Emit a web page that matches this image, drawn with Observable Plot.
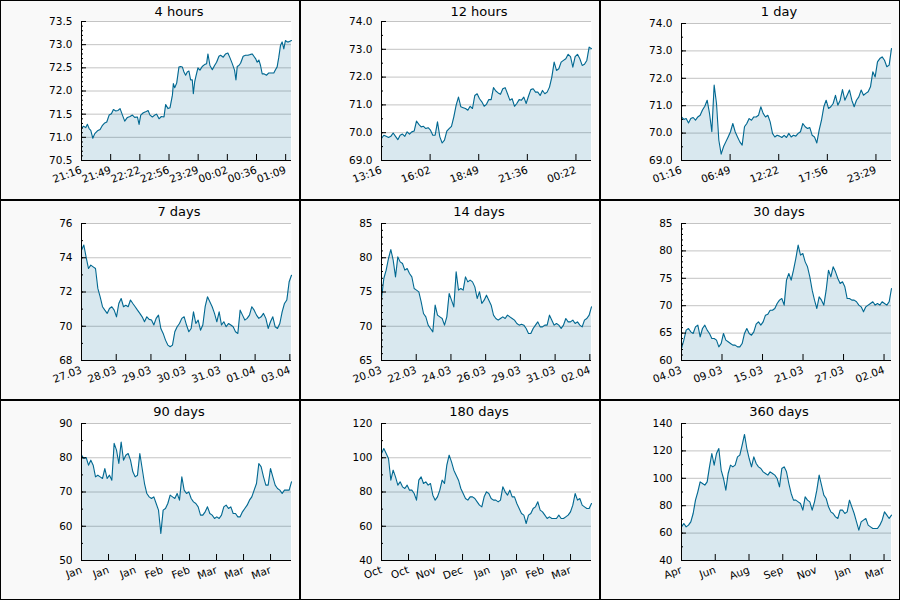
<!DOCTYPE html>
<html><head><meta charset="utf-8">
<script src="https://cdn.jsdelivr.net/npm/d3@7"></script>
<script src="https://cdn.jsdelivr.net/npm/@observablehq/plot@0.6"></script>
<style>
body{margin:0;background:#fff;}
#grid{display:grid;grid-template-columns:repeat(3,300px);grid-template-rows:repeat(3,200px);width:900px;height:600px;}
.panel{position:relative;width:300px;height:200px;background:#f9f9f9;box-shadow:inset 0 0 0 1px #000;}
.panel svg{position:absolute;left:0;top:0;}
</style></head><body><div id="grid"></div>
<script>
// ---- 4 hours (times in minutes from start) ----
const t4h = [0,2.3,4.9,6.8,8.7,10.6,12.9,15.2,18.3,21.3,24.0,26.6,28.9,31.6,34.2,36.5,39.2,41.8,44.1,46.8,49.4,52.5,55.5,58.2,60.8,63.9,65.8,67.7,70.7,73.4,76.1,78.3,81.0,83.7,85.9,88.6,91.3,94.3,96.2,98.9,101.2,103.9,105.0,106.5,108.8,111.4,113.3,115.2,117.1,119.0,120.9,122.8,124.7,126.6,127.8,129.3,130.8,133.1,135.4,138.0,140.7,143.0,144.5,146.8,149.5,152.1,154.4,157.1,159.0,162.0,164.7,167.3,169.6,172.3,174.9,176.5,178.0,179.9,181.8,184.8,187.5,190.2,193.2,195.1,197.0,198.9,200.8,202.7,204.6,206.5,208.4,211.4,214.1,216.8,219.8,221.7,223.6,225.5,227.4,229.3,231.2,233.1,235.0,236.9,238.8,240];
const v4h = [71.19,71.24,71.21,71.28,71.19,71.15,70.98,71.08,71.14,71.17,71.26,71.31,71.33,71.48,71.51,71.60,71.57,71.58,71.62,71.48,71.35,71.43,71.45,71.48,71.43,71.44,71.28,71.48,71.53,71.55,71.58,71.48,71.44,71.48,71.50,71.40,71.45,71.44,71.71,71.62,71.64,71.91,72.16,72.07,72.17,72.52,72.53,72.52,72.41,72.34,72.41,72.43,72.24,72.24,71.94,72.19,72.32,72.50,72.45,72.53,72.57,72.59,72.80,72.55,72.46,72.55,72.62,72.75,72.77,72.73,72.80,72.82,72.72,72.59,72.45,72.24,72.53,72.55,72.60,72.75,72.77,72.77,72.79,72.80,72.75,72.70,72.62,72.67,72.55,72.37,72.37,72.34,72.39,72.39,72.39,72.46,72.52,72.73,72.98,73.06,72.91,73.09,73.06,73.06,73.08,73.09];
const lab4h = ["21:16","21:49","22:22","22:56","23:29","00:02","00:36","01:09"];

// ---- 12 hours ----
const v12h = [69.79,69.91,69.87,69.83,69.87,69.99,69.87,69.75,69.91,69.95,69.87,70.03,69.95,70.03,70.06,70.42,70.30,70.21,70.23,70.15,70.18,70.09,69.91,69.91,70.39,69.85,69.63,69.73,70.06,70.15,70.23,70.57,70.99,71.28,70.93,70.90,70.87,70.81,70.95,70.87,71.34,71.40,71.22,71.11,70.95,71.02,71.19,71.19,71.62,71.50,71.43,71.38,71.58,71.62,71.40,71.17,71.22,70.95,71.05,71.19,71.17,71.28,71.05,71.31,71.55,71.58,71.46,71.46,71.34,71.52,71.40,71.46,71.64,72.00,72.54,72.24,72.30,72.54,72.60,72.66,72.82,72.74,72.36,72.74,72.82,72.66,72.42,72.46,72.60,73.08,73.02];
const lab12h = ["13:16","16:02","18:49","21:36","00:22"];

// ---- 1 day ----
const v1d = [70.59,70.50,70.53,70.37,70.53,70.57,70.47,70.59,70.65,70.84,70.98,71.20,70.72,70.05,71.75,71.08,69.74,69.23,69.50,69.68,69.86,70.05,70.35,70.05,69.86,69.68,69.56,70.23,70.35,70.53,70.47,70.59,70.59,70.65,70.96,70.72,70.59,70.65,70.41,69.99,69.86,69.92,69.89,69.84,69.92,69.84,69.99,69.86,69.92,69.89,69.99,70.05,70.35,70.23,70.17,70.20,69.92,69.86,69.64,70.11,70.47,70.96,71.20,70.90,70.96,71.08,71.38,71.02,71.20,71.59,71.20,71.38,71.57,71.20,70.96,71.20,71.32,71.57,71.38,71.45,71.51,71.69,72.24,72.05,72.60,72.72,72.78,72.66,72.42,72.48,73.09];
const lab1d = ["01:16","06:49","12:22","17:56","23:29"];

// ---- 7 days ----
const v7d = [74.44,74.74,74.02,73.37,73.57,73.47,73.37,72.21,71.72,71.14,70.94,70.75,71.04,71.14,70.94,70.55,71.33,71.62,71.14,71.23,71.14,71.53,71.33,71.14,70.94,70.75,70.55,70.26,70.55,70.40,70.36,70.07,70.46,70.65,69.87,69.58,69.19,68.90,68.80,68.90,69.68,69.97,70.16,70.46,70.55,70.07,69.68,69.87,70.84,70.16,70.36,69.77,70.07,71.14,71.72,71.43,71.14,70.75,70.26,70.84,70.07,70.26,69.97,70.16,70.07,69.97,69.68,69.58,70.94,70.65,70.36,70.46,70.65,71.14,70.94,70.65,70.46,70.55,70.75,70.46,69.87,70.26,70.55,69.97,69.87,70.16,70.84,71.33,71.53,72.60,72.98];
const lab7d = ["27.03","28.03","29.03","30.03","31.03","01.04","03.04"];

// ---- 14 days ----
const v14d = [74.05,76.97,78.19,79.89,81.20,79.65,77.21,80.13,79.40,79.16,78.19,78.43,77.70,77.21,75.51,75.27,75.02,73.56,71.86,71.37,70.16,69.67,69.18,73.08,71.62,71.37,71.13,70.16,71.37,74.78,73.81,72.83,77.94,75.27,75.51,75.27,77.21,76.48,76.73,76.48,75.75,74.05,75.02,73.32,73.81,74.54,73.81,73.08,71.62,71.13,70.89,71.13,71.37,71.13,71.62,71.37,71.13,70.89,70.40,70.16,70.30,70.16,69.67,68.94,68.94,69.67,70.16,70.64,69.91,69.91,70.16,70.16,71.62,70.89,70.16,70.40,70.16,69.67,70.16,71.13,70.64,70.64,70.89,70.40,70.64,70.16,69.91,70.89,71.13,71.62,72.83];
const lab14d = ["20.03","22.03","24.03","26.03","29.03","31.03","02.04"];

// ---- 30 days ----
const v30d = [62.19,63.71,65.54,65.84,65.23,64.93,66.14,66.45,64.32,65.84,66.45,65.54,64.93,64.01,64.01,63.71,62.49,63.10,64.93,63.71,63.41,63.10,62.80,62.80,62.49,62.49,63.10,64.93,65.84,64.93,64.62,65.23,66.63,67.06,66.45,67.06,68.27,68.45,69.18,69.18,69.49,70.40,71.01,71.31,70.10,74.66,75.88,74.66,76.48,78.61,81.05,79.22,79.53,78.00,77.09,75.27,72.83,71.01,69.49,71.62,71.01,70.10,72.83,76.48,75.27,77.09,76.18,74.96,74.05,74.36,73.44,71.31,71.31,71.01,71.01,70.71,70.10,69.79,68.88,69.79,70.10,70.40,70.71,70.10,70.40,70.10,70.71,70.40,70.10,70.71,73.14];
const lab30d = ["04.03","09.03","15.03","21.03","27.03","02.04"];

// ---- 90 days ----
const v90d = [80.75,79.78,80.07,77.83,79.29,77.83,74.43,74.91,74.43,73.94,76.86,73.94,74.91,73.45,84.20,82.21,78.32,84.60,79.29,80.75,81.24,79.29,75.89,74.43,74.91,81.24,76.86,72.48,69.56,68.59,68.10,68.59,66.64,64.70,57.88,64.70,65.18,66.64,69.08,68.59,68.10,69.56,67.62,74.43,70.54,69.56,70.05,68.10,67.13,66.64,65.67,63.24,63.24,64.21,65.67,63.72,63.24,62.26,62.75,62.26,63.24,65.67,66.16,65.18,65.67,63.72,63.72,62.75,62.75,64.21,65.18,66.16,67.62,68.59,70.54,72.48,78.32,77.35,74.43,72.00,72.00,76.86,74.43,72.00,71.02,70.54,69.56,70.54,70.54,70.54,72.97];
const lab90d = ["Jan","Jan","Jan","Feb","Feb","Mar","Mar","Mar"];

// ---- 180 days ----
const v180d = [102.48,105.40,102.48,99.56,86.91,92.75,88.86,83.99,85.94,83.02,82.04,83.99,81.07,81.07,79.12,75.23,86.91,88.86,84.96,85.94,83.99,84.96,78.15,75.23,77.18,81.07,86.91,84.96,95.67,101.51,97.62,92.75,89.83,86.91,82.04,79.12,76.20,75.23,77.18,77.18,76.20,74.26,72.31,71.34,77.18,80.10,79.12,76.20,75.23,75.23,74.26,75.23,83.02,80.10,78.15,81.07,77.18,77.18,73.28,70.36,67.45,66.47,61.61,66.47,67.45,70.36,71.34,74.26,69.39,68.42,66.47,64.53,65.50,64.53,64.53,64.53,66.47,64.53,64.53,65.50,66.47,68.42,72.31,79.12,75.23,76.20,72.31,71.34,70.36,70.36,73.28];
const lab180d = ["Oct","Oct","Nov","Dec","Jan","Jan","Feb","Mar"];

// ---- 360 days ----
const v360d = [64.57,67.01,64.57,65.79,68.22,74.31,84.04,90.12,97.42,96.20,94.99,97.42,108.37,118.10,109.59,118.10,121.75,105.94,99.85,91.34,103.50,109.59,108.37,109.59,115.67,116.89,124.18,132.00,121.75,114.45,108.37,115.67,110.80,108.37,107.15,104.72,103.50,102.29,104.72,103.50,102.29,99.85,93.77,107.15,108.37,104.72,96.20,88.91,84.04,84.04,82.82,81.61,76.74,86.47,84.04,82.82,76.74,82.82,91.34,102.29,94.99,87.69,85.26,79.17,75.52,74.31,71.87,70.66,76.74,76.74,74.31,75.52,84.04,79.17,74.31,68.22,62.14,68.22,69.44,70.66,65.79,64.57,63.36,63.36,63.36,65.79,69.44,75.52,73.09,70.66,73.09];
const lab360d = ["Apr","Jun","Aug","Sep","Nov","Jan","Mar"];

const DAY = 86400;
const panels = [
  {title:"4 hours", values:v4h, times:t4h, timeUnit:60, duration:14400, tickStep:2000, labels:lab4h, yDomain:[70.5,73.5], major:0.5, minor:0.1, fmt:".1f", top:21},
  {title:"12 hours", values:v12h, duration:43200, tickStep:10000, labels:lab12h, yDomain:[69,74], major:1, minor:0.5, fmt:".1f", top:21},
  {title:"1 day", values:v1d, duration:DAY, tickStep:20000, labels:lab1d, yDomain:[69,74], major:1, minor:0.5, fmt:".1f", top:23},
  {title:"7 days", values:v7d, duration:7*DAY, tickStep:100000, labels:lab7d, yDomain:[68,76], major:2, minor:1, fmt:"d", top:23},
  {title:"14 days", values:v14d, duration:14*DAY, tickStep:200000, labels:lab14d, yDomain:[65,85], major:5, minor:1, fmt:"d", top:23},
  {title:"30 days", values:v30d, duration:30*DAY, tickStep:500000, labels:lab30d, yDomain:[60,85], major:5, minor:1, fmt:"d", top:23},
  {title:"90 days", values:v90d, duration:90*DAY, tickStep:1000000, labels:lab90d, yDomain:[50,90], major:10, minor:5, fmt:"d", top:23},
  {title:"180 days", values:v180d, duration:180*DAY, tickStep:2000000, labels:lab180d, yDomain:[40,120], major:20, minor:10, fmt:"d", top:23},
  {title:"360 days", values:v360d, duration:360*DAY, tickStep:5000000, labels:lab360d, yDomain:[40,140], major:20, minor:10, fmt:"d", top:23}
];

const LINE = "#006891";
const grid = document.getElementById("grid");
for (const p of panels) {
  const n = p.values.length;
  const data = p.values.map((v, i) => ({t: p.times ? p.times[i] * p.timeUnit : i * p.duration / (n - 1), v}));
  const xTicks = p.labels.map((_, i) => i * p.tickStep);
  const [y0, y1] = p.yDomain;
  const steps = (s) => d3.range(0, Math.round((y1 - y0) / s) + 1).map(k => +(y0 + k * s).toFixed(4));
  const major = steps(p.major), minor = steps(p.minor);
  const W = 300, H = 200, ml = 81, mr = 9, mb = 40, mt = p.top;
  const pw = W - ml - mr, ph = H - mt - mb;
  const fmt = d3.format(p.fmt);
  const chart = Plot.plot({
    width: W, height: H, marginLeft: ml, marginRight: mr, marginTop: mt, marginBottom: mb,
    style: {background: "transparent", fontFamily: "DejaVu Sans", fontSize: "10.5px", color: "#000"},
    x: {domain: [0, p.duration]},
    y: {domain: p.yDomain},
    marks: [
      Plot.frame({fill: "#fff", stroke: null}),
      Plot.ruleY(major.slice(1), {stroke: "#c4c4c4"}),
      Plot.areaY(data, {x: "t", y1: () => y0, y2: "v", fill: LINE, fillOpacity: 0.15}),
      Plot.lineY(data, {x: "t", y: "v", stroke: LINE, strokeWidth: 1.1}),
      Plot.tickY(minor, {y: d => d, stroke: "#000", insetRight: pw - 2}),
      Plot.tickY(major, {y: d => d, stroke: "#000", insetRight: pw - 5}),
      Plot.tickX(xTicks, {x: d => d, stroke: "#000", insetTop: ph - 6}),
      Plot.ruleX([0], {stroke: "#000"}),
      Plot.ruleY([y0], {stroke: "#000"}),
      Plot.axisY({ticks: major, tickSize: 0, tickPadding: 9, tickFormat: fmt, label: null}),
      Plot.axisX({ticks: xTicks, tickSize: 0, tickPadding: 9, tickRotate: -20, tickFormat: d => p.labels[xTicks.indexOf(d)], label: null}),
      Plot.text([p.title], {frameAnchor: "top", dx: -7.5, dy: 15 - mt, lineAnchor: "bottom", fontSize: 13})
    ]
  });
  const div = document.createElement("div");
  div.className = "panel";
  div.appendChild(chart);
  grid.appendChild(div);
}
</script></body></html>
